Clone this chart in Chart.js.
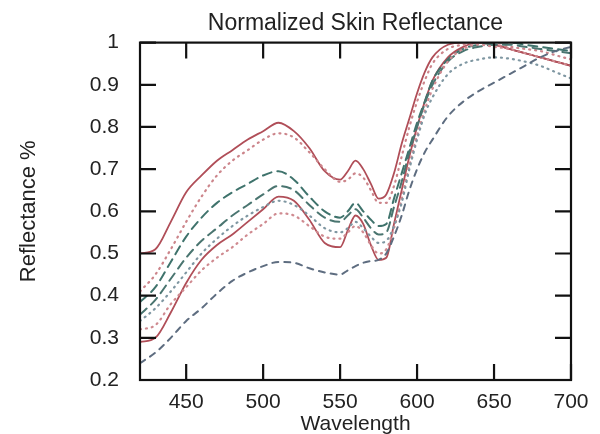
<!DOCTYPE html>
<html lang="en">
  <head>
    <meta charset="UTF-8" />
    <title>Normalized Skin Reflectance</title>
    <style>
      body { margin: 0; background: #fff; }
      #wrap { width: 600px; height: 434px; }
    </style>
  </head>
  <body>
    <div id="wrap"><canvas id="myChart" width="600" height="434"></canvas></div>
    <script src="https://cdn.jsdelivr.net/npm/chart.js"></script>
    <script>
      const wavelengths = [
        420, 430, 440, 450, 460, 470, 480, 490, 500, 510,
        520, 530, 540, 550,
        555, 560, 565, 570, 575, 580, 585, 590, 595, 600, 605, 610,
        620, 630, 640, 650, 660, 670, 680, 690, 700
      ];
      const xTicks = [450, 500, 550, 600, 650, 700];
      const yTicks = [0.2, 0.3, 0.4, 0.5, 0.6, 0.7, 0.8, 0.9, 1];

      // solid red, upper
      const skinA = [0.50, 0.51, 0.575, 0.645, 0.685, 0.72, 0.745, 0.77, 0.79, 0.81,
        0.79, 0.75, 0.695, 0.675,
        0.695, 0.72, 0.70, 0.665, 0.63, 0.64, 0.69, 0.76, 0.82, 0.88, 0.93, 0.965,
        0.995, 1.0, 1.0, 0.995, 0.985, 0.975, 0.965, 0.955, 0.945];
      // dotted red, upper
      const skinB = [0.41, 0.45, 0.51, 0.575, 0.635, 0.685, 0.72, 0.745, 0.77, 0.785,
        0.775, 0.74, 0.70, 0.67,
        0.675, 0.69, 0.68, 0.65, 0.62, 0.62, 0.66, 0.73, 0.80, 0.86, 0.91, 0.95,
        0.985, 0.995, 1.0, 0.995, 0.99, 0.985, 0.98, 0.97, 0.96];
      // dashed teal, upper
      const skinC = [0.385, 0.42, 0.48, 0.54, 0.585, 0.62, 0.645, 0.665, 0.685, 0.695,
        0.675, 0.635, 0.60, 0.585,
        0.60, 0.62, 0.60, 0.58, 0.565, 0.57, 0.63, 0.69, 0.75, 0.81, 0.86, 0.91,
        0.96, 0.985, 0.995, 1.0, 1.0, 0.995, 0.99, 0.985, 0.98];
      // dashed teal, lower
      const skinD = [0.355, 0.39, 0.44, 0.49, 0.53, 0.56, 0.59, 0.615, 0.64, 0.66,
        0.65, 0.615, 0.585, 0.575,
        0.59, 0.605, 0.585, 0.56, 0.545, 0.55, 0.61, 0.67, 0.74, 0.80, 0.855, 0.90,
        0.955, 0.98, 0.99, 0.995, 0.995, 0.99, 0.985, 0.98, 0.975];
      // dotted grey
      const skinH = [0.34, 0.37, 0.41, 0.455, 0.50, 0.535, 0.565, 0.59, 0.61, 0.625,
        0.615, 0.59, 0.56, 0.55,
        0.56, 0.575, 0.56, 0.54, 0.525, 0.53, 0.565, 0.62, 0.70, 0.77, 0.83, 0.87,
        0.925, 0.95, 0.96, 0.965, 0.962, 0.955, 0.945, 0.93, 0.915];
      // dotted red, lower
      const skinF = [0.32, 0.33, 0.38, 0.42, 0.46, 0.49, 0.515, 0.545, 0.57, 0.595,
        0.59, 0.565, 0.54, 0.535,
        0.55, 0.565, 0.55, 0.52, 0.50, 0.51, 0.56, 0.63, 0.71, 0.78, 0.84, 0.89,
        0.955, 0.985, 0.995, 0.99, 0.985, 0.975, 0.965, 0.955, 0.945];
      // solid red, lower
      const skinE = [0.29, 0.30, 0.36, 0.43, 0.485, 0.52, 0.545, 0.575, 0.605, 0.635,
        0.625, 0.58, 0.525, 0.515,
        0.555, 0.59, 0.57, 0.52, 0.485, 0.49, 0.57, 0.65, 0.73, 0.80, 0.86, 0.91,
        0.965, 0.99, 1.0, 0.995, 0.985, 0.975, 0.965, 0.955, 0.945];
      // dashed grey, lowest
      const skinG = [0.24, 0.265, 0.30, 0.34, 0.37, 0.405, 0.435, 0.455, 0.47, 0.48,
        0.478, 0.465, 0.455, 0.45,
        0.46, 0.47, 0.478, 0.482, 0.485, 0.50, 0.54, 0.59, 0.65, 0.70, 0.74, 0.77,
        0.825, 0.86, 0.885, 0.905, 0.925, 0.945, 0.965, 0.98, 0.99];

      function toPoints(values) {
        return values.map((v, i) => ({ x: wavelengths[i], y: v }));
      }

      function makeSet(values, color, dash, width) {
        return {
          data: toPoints(values),
          borderColor: color,
          borderWidth: width,
          borderDash: dash,
          borderCapStyle: dash.length ? "round" : "butt",
          pointRadius: 0,
          fill: false,
          cubicInterpolationMode: "monotone"
        };
      }

      // inward tick marks on all four sides + frame
      const frameTicks = {
        id: "frameTicks",
        afterDatasetsDraw(chart) {
          const { ctx, chartArea: a, scales } = chart;
          const len = 16;
          ctx.save();
          ctx.strokeStyle = "#111";
          ctx.lineWidth = 2.2;
          ctx.beginPath();
          xTicks.forEach(v => {
            const px = scales.x.getPixelForValue(v);
            ctx.moveTo(px, a.bottom);
            ctx.lineTo(px, a.bottom - len);
            ctx.moveTo(px, a.top);
            ctx.lineTo(px, a.top + len);
          });
          yTicks.forEach(v => {
            const py = scales.y.getPixelForValue(v);
            ctx.moveTo(a.left, py);
            ctx.lineTo(a.left + len, py);
            ctx.moveTo(a.right, py);
            ctx.lineTo(a.right - len, py);
          });
          ctx.stroke();
          ctx.strokeRect(a.left, a.top, a.right - a.left, a.bottom - a.top);
          ctx.restore();
        }
      };

      const font = "'Liberation Sans', Arial, sans-serif";
      const textColor = "#222";

      new Chart(document.getElementById("myChart"), {
        type: "line",
        data: {
          datasets: [
            makeSet(skinG, "#5e6d80", [6, 6], 2),
            makeSet(skinH, "#7f97a2", [1, 5], 2.2),
            makeSet(skinF, "#cf8a90", [1, 5], 2.2),
            makeSet(skinD, "#4a7570", [9, 6], 2),
            makeSet(skinC, "#3f736c", [9, 6], 2),
            makeSet(skinB, "#cc858b", [1, 5], 2.2),
            makeSet(skinE, "#b04e58", [], 1.8),
            makeSet(skinA, "#b04e58", [], 1.8)
          ]
        },
        options: {
          responsive: false,
          animation: false,
          layout: { padding: { left: 0, right: 29, top: 0, bottom: 0 } },
          plugins: {
            legend: { display: false },
            tooltip: { enabled: false },
            title: {
              display: true,
              text: "Normalized Skin Reflectance",
              fullSize: false,
              color: textColor,
              font: { family: font, size: 23, weight: "normal" },
              padding: { top: 10, bottom: 5 }
            }
          },
          scales: {
            x: {
              type: "linear",
              min: 420,
              max: 700,
              afterBuildTicks: s => { s.ticks = xTicks.map(v => ({ value: v })); },
              afterFit: s => { s.height = 54; },
              grid: { display: false },
              border: { display: false },
              ticks: {
                color: textColor,
                padding: 2,
                maxRotation: 0,
                font: { family: font, size: 21 }
              },
              title: {
                display: true,
                text: "Wavelength",
                color: textColor,
                font: { family: font, size: 21 },
                padding: { top: 0, bottom: -3 }
              }
            },
            y: {
              min: 0.2,
              max: 1,
              afterBuildTicks: s => { s.ticks = yTicks.map(v => ({ value: v })); },
              afterFit: s => { s.width = 140; },
              grid: { display: false },
              border: { display: false },
              ticks: {
                color: textColor,
                padding: 13,
                font: { family: font, size: 21 },
                callback: v => String(v)
              },
              title: {
                display: true,
                text: "Reflectance %",
                color: textColor,
                font: { family: font, size: 22 },
                padding: { top: 16, bottom: 0 }
              }
            }
          }
        },
        plugins: [frameTicks]
      });
    </script>
  </body>
</html>
